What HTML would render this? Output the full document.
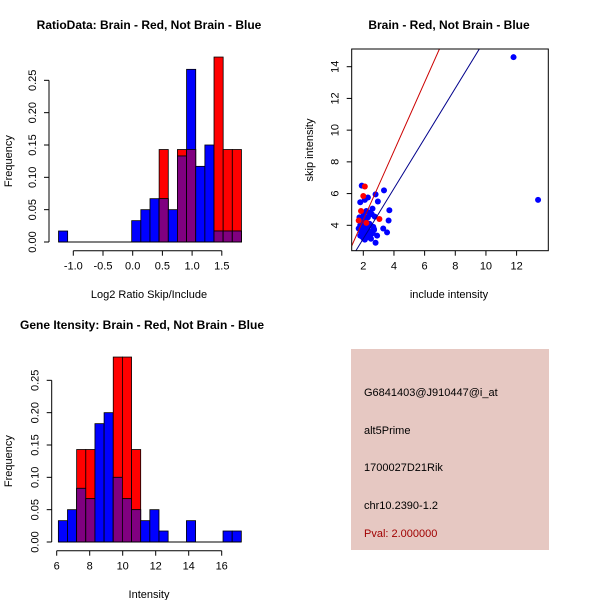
<!DOCTYPE html>
<html><head><meta charset="utf-8"><style>
body{margin:0;background:#fff}
svg text{font-family:"Liberation Sans",sans-serif}
</style></head><body>
<svg id="c" width="600" height="600" xmlns="http://www.w3.org/2000/svg">
<rect width="600" height="600" fill="#fff"/>
<g id="p1"></g>
<g id="p2"></g>
<g id="p3"></g>
<g>
<rect x="351" y="349" width="198" height="201" fill="#e6c8c2"/>
<text x="364" y="396" font-size="11" fill="#000">G6841403@J910447@i_at</text>
<text x="364" y="434" font-size="11" fill="#000">alt5Prime</text>
<text x="364" y="471" font-size="11" fill="#000">1700027D21Rik</text>
<text x="364" y="509" font-size="11" fill="#000">chr10.2390-1.2</text>
<text x="364" y="537" font-size="11" fill="#a00000">Pval: 2.000000</text>
</g>
</svg>
<script>
// Ratio histogram data
const ratioStart = -1.249, ratioWidth = 0.154;
const ratioBlue = [0.017,0,0,0,0,0,0,0,0.033,0.05,0.067,0.067,0.05,0.133,0.267,0.117,0.15,0.017,0.017,0.017];
const ratioRed  = [0,0,0,0,0,0,0,0,0,0,0,0.143,0,0.143,0.143,0,0,0.286,0.143,0.143];
const ratioTicks = [-1.0,-0.5,0.0,0.5,1.0,1.5];
const ratioTickLabels = ["-1.0","-0.5","0.0","0.5","1.0","1.5"];
// Intensity histogram data
const intStart = 6.1, intWidth = 0.5545;
const intBlue = [0.033,0.05,0.083,0.067,0.183,0.2,0.1,0.067,0.05,0.033,0.05,0.017,0,0,0.033,0,0,0,0.017,0.017];
const intRed  = [0,0,0.143,0.143,0,0,0.286,0.286,0.143,0,0,0,0,0,0,0,0,0,0,0];
const intTicks = [6,8,10,12,14,16];
const freqTicks = [0,0.05,0.10,0.15,0.20,0.25];
const freqTickLabels = ["0.00","0.05","0.10","0.15","0.20","0.25"];
// Scatter data
const blueX = [11.8,13.4,1.9,3.35,1.8,2.1,2.3,2.8,2.95,3.7,3.65,3.3,3.55,2.8,2.9,2.5,2.6,2.55,2.2,2.0,1.9,2.1,2.3,2.4,1.8,1.7,2.0,2.2,2.5,2.7,2.1,1.9,2.3,2.6,2.0,1.85,2.15,2.45,2.75,2.05,1.95,2.35,2.65,1.75,2.25,2.5,2.1,1.9,2.0,2.4,2.2,1.8,2.7,2.3];
const blueY = [14.6,5.6,6.5,6.2,5.45,5.6,5.75,5.95,5.5,4.95,4.3,3.8,3.55,2.9,3.35,3.15,5.05,4.7,4.9,4.6,4.4,4.2,4.5,4.1,4.0,3.8,3.9,3.7,3.6,3.7,3.5,3.3,3.4,3.5,3.2,3.6,4.3,4.0,4.55,4.75,4.15,3.95,3.9,4.5,3.25,3.45,3.1,3.85,3.55,4.8,4.45,3.35,3.75,3.65];
const redX = [2.0,2.1,3.05,1.7,1.85,2.2];
const redY = [5.85,6.45,4.4,4.3,4.9,4.15];
const redSlope = 2.17, blueSlope = 1.58;
const xTicksS = [2,4,6,8,10,12], yTicksS = [4,6,8,10,12,14];

const NS="http://www.w3.org/2000/svg";
function mk(parent,tag,attrs){const e=document.createElementNS(NS,tag);for(const k in attrs)e.setAttribute(k,attrs[k]);parent.appendChild(e);return e;}
function txt(parent,x,y,s,size,extra){const t=mk(parent,'text',Object.assign({x:x,y:y,'font-size':size,'text-anchor':'middle',fill:'#000'},extra||{}));t.textContent=s;return t;}

function hist(g,cfg){
  const X=v=>cfg.x0+(v-cfg.xv0)*cfg.xs, Y=f=>cfg.y0-f*cfg.ys;
  txt(g,cfg.titleX,cfg.titleY,cfg.title,12,{'font-weight':'bold'});
  for(let i=0;i<cfg.blue.length;i++){
    const a=X(cfg.start+i*cfg.w), b=X(cfg.start+(i+1)*cfg.w), r=cfg.red[i], bl=cfg.blue[i];
    if(r>0){const e=mk(g,'rect',{x:a,y:Y(r),width:b-a,height:Y(0)-Y(r),fill:'#ff0000',stroke:'#000','stroke-width':0.8});
      }
    if(bl>0){const e=mk(g,'rect',{x:a,y:Y(bl),width:b-a,height:Y(0)-Y(bl),fill:'#0000ff',stroke:'#000','stroke-width':0.8});
      }
    const m=Math.min(r,bl);
    if(m>0){const e=mk(g,'rect',{x:a,y:Y(m),width:b-a,height:Y(0)-Y(m),fill:'#800080',stroke:'#000','stroke-width':0.8});
      }
  }
  mk(g,'line',{x1:X(cfg.start),x2:X(cfg.start+cfg.blue.length*cfg.w),y1:Y(0),y2:Y(0),stroke:'#000'});
  const ya=mk(g,'g',{});
  mk(ya,'line',{x1:cfg.ax,x2:cfg.ax,y1:Y(0),y2:Y(0.25),stroke:'#000'});
  freqTicks.forEach((f,i)=>{mk(ya,'line',{x1:cfg.ax-5,x2:cfg.ax,y1:Y(f),y2:Y(f),stroke:'#000'});
    const lx=cfg.ax-13;
    txt(ya,lx,Y(f),freqTickLabels[i],11,{transform:`rotate(-90 ${lx} ${Y(f)})`});});
  txt(g,12,Y(0.125),'Frequency',11,{transform:`rotate(-90 12 ${Y(0.125)})`});
  const xa=mk(g,'g',{});
  mk(xa,'line',{x1:X(cfg.ticks[0]),x2:X(cfg.ticks[cfg.ticks.length-1]),y1:cfg.ay,y2:cfg.ay,stroke:'#000'});
  cfg.ticks.forEach((t,i)=>{mk(xa,'line',{x1:X(t),x2:X(t),y1:cfg.ay,y2:cfg.ay+5,stroke:'#000'});
    txt(xa,X(t),cfg.ay+19,cfg.labels[i],11);});
  txt(g,cfg.xtX,cfg.xtY,cfg.xtitle,11);
}
hist(document.getElementById('p1'),{x0:73.3,xv0:-1,xs:59.4,y0:242,ys:646.7,start:ratioStart,w:ratioWidth,blue:ratioBlue,red:ratioRed,
  ax:49,ay:250.7,ticks:ratioTicks,labels:ratioTickLabels,title:'RatioData: Brain - Red, Not Brain - Blue',titleX:149,titleY:29,
  xtitle:'Log2 Ratio Skip/Include',xtX:149,xtY:298});
hist(document.getElementById('p3'),{x0:56.7,xv0:6,xs:16.5,y0:542,ys:646.7,start:intStart,w:intWidth,blue:intBlue,red:intRed,
  ax:51.7,ay:550.7,ticks:intTicks,labels:intTicks.map(String),title:'Gene Itensity: Brain - Red, Not Brain - Blue',titleX:142,titleY:329,
  xtitle:'Intensity',xtX:149,xtY:598});

(function(){
  const g=document.getElementById('p2');
  const L=351.7,R=548.3,T=49,B=250.7;
  const X=v=>363.3+(v-2)*15.33, Y=v=>225.3-(v-4)*15.86;
  txt(g,449,29,'Brain - Red, Not Brain - Blue',12,{'font-weight':'bold'});
  const defs=mk(g,'clipPath',{id:'sc'});mk(defs,'rect',{x:L,y:T,width:R-L,height:B-T});
  const inner=mk(g,'g',{'clip-path':'url(#sc)'});
  blueX.forEach((x,i)=>{const c=mk(inner,'circle',{cx:X(x),cy:Y(blueY[i]),r:3,fill:'#0000ff'});
    });
  redX.forEach((x,i)=>{const c=mk(inner,'circle',{cx:X(x),cy:Y(redY[i]),r:3,fill:'#ff0000'});
    });
  const rl=mk(inner,'line',{x1:X(0),y1:Y(0),x2:X(10),y2:Y(10*redSlope),stroke:'#cc0000'});
  
  const bl=mk(inner,'line',{x1:X(0),y1:Y(0),x2:X(12),y2:Y(12*blueSlope),stroke:'#00008b'});
  
  mk(g,'rect',{x:L,y:T,width:R-L,height:B-T,fill:'none',stroke:'#000'});
  const xa=mk(g,'g',{});
  xTicksS.forEach(t=>{mk(xa,'line',{x1:X(t),x2:X(t),y1:B,y2:B+5,stroke:'#000'});txt(xa,X(t),B+19,String(t),11);});
  const ya=mk(g,'g',{});
  yTicksS.forEach(t=>{mk(ya,'line',{x1:L-5,x2:L,y1:Y(t),y2:Y(t),stroke:'#000'});
    const lx=L-13;
    txt(ya,lx,Y(t),String(t),11,{transform:`rotate(-90 ${lx} ${Y(t)})`});});
  txt(g,449,298,'include intensity',11);
  txt(g,313,150,'skip intensity',11,{transform:'rotate(-90 313 150)'});
})();
</script>
</body></html>
